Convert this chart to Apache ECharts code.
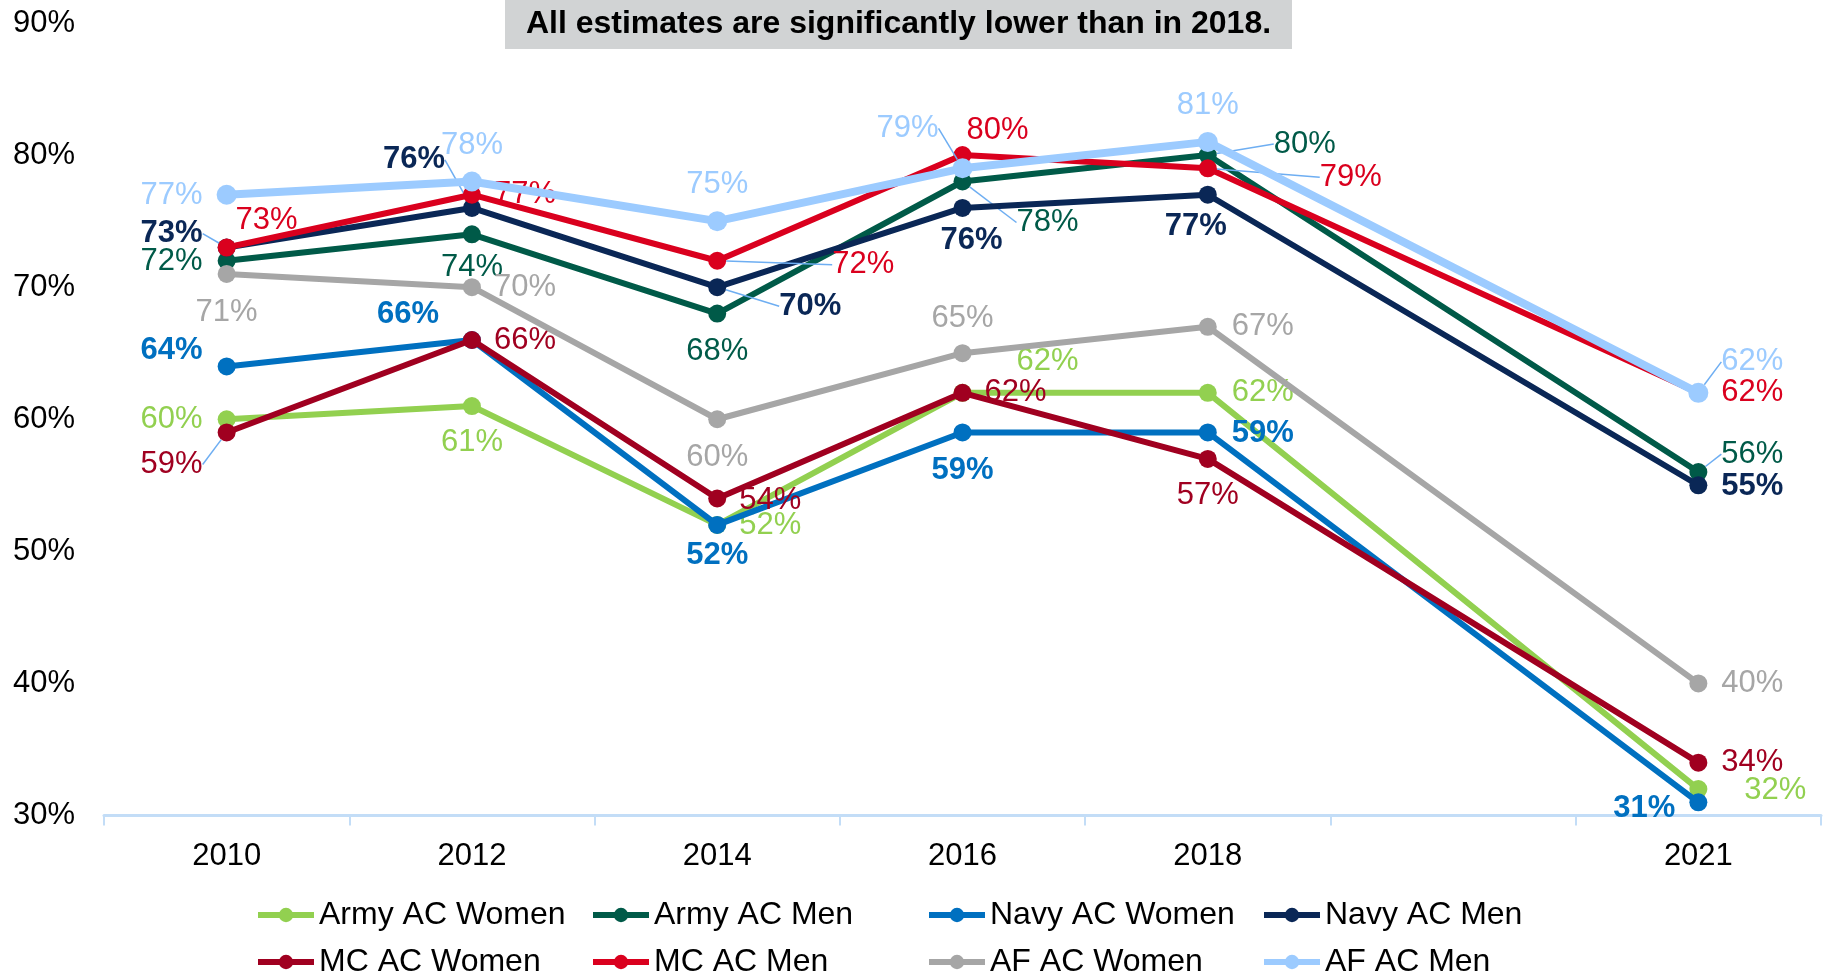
<!DOCTYPE html>
<html>
<head>
<meta charset="utf-8">
<script src="https://cdn.jsdelivr.net/npm/echarts/dist/echarts.min.js"></script>
<style>
  html, body { margin: 0; padding: 0; background: #ffffff; }
  #chart { width: 1829px; height: 975px; }
</style>
</head>
<body>
<div id="chart"></div>
<script>
// Survey years (the blank slot keeps the 2018 -> 2021 gap wider)
const years = ['2010', '2012', '2014', '2016', '2018', '', '2021'];
const yTicks = [30, 40, 50, 60, 70, 80, 90];

// Percentages per group
const armyWomen = [60, 61, 52, 62, 62, null, 32];
const armyMen   = [72, 74, 68, 78, 80, null, 56];
const navyWomen = [64, 66, 52, 59, 59, null, 31];
const navyMen   = [73, 76, 70, 76, 77, null, 55];
const mcWomen   = [59, 66, 54, 62, 57, null, 34];
const mcMen     = [73, 77, 72, 80, 79, null, 62];
const afWomen   = [71, 70, 60, 65, 67, null, 40];
const afMen     = [77, 78, 75, 79, 81, null, 62];

const seriesNames = ['Army AC Women', 'Army AC Men', 'Navy AC Women', 'Navy AC Men',
                     'MC AC Women', 'MC AC Men', 'AF AC Women', 'AF AC Men'];
const seriesValues = [armyWomen, armyMen, navyWomen, navyMen, mcWomen, mcMen, afWomen, afMen];

const FONT = '"Liberation Sans", Arial, Helvetica, sans-serif';

// Styling per group: colour, bold labels, line width, marker size
const styles = [
  { color: '#92D050', bold: false, width: 6, size: 18 },
  { color: '#005A48', bold: false, width: 6, size: 18 },
  { color: '#0070C0', bold: true,  width: 6, size: 18 },
  { color: '#0A2756', bold: true,  width: 6, size: 18 },
  { color: '#A00020', bold: false, width: 6, size: 18 },
  { color: '#DA001E', bold: false, width: 6, size: 18 },
  { color: '#A6A6A6', bold: false, width: 6, size: 18 },
  { color: '#9CCBFF', bold: false, width: 8, size: 20 }
];

// Label placement (pixel shift of each value label from its marker)
const labelShift = [
  [[-55, 0], [0, 36], [53, 1], [85, -31], [55, 0], null, [77, 1]],
  [[-55, 1], [0, 33], [0, 38], [85, 41], [97, -11], null, [54, -18]],
  [[-55, -16], [-64, -26], [0, 31], [0, 38], [55, 1], null, [-54, 6]],
  [[-55, -14], [-58, -48], [93, 19], [9, 33], [-12, 32], null, [54, 1]],
  [[-55, 32], [53, 0], [53, 2], [53, 0], [0, 37], null, [54, 0]],
  [[40, -27], [53, 0], [146, 4], [35, -25], [143, 9], null, [54, 0]],
  [[0, 38], [53, 0], [0, 38], [0, -35], [55, 0], null, [54, 0]],
  [[-55, 1], [0, -36], [0, -37], [-55, -40], [0, -36], null, [54, -31]]
];
// Labels that are tied back to their marker with a leader line
const leaders = [
  [], [3, 4, 6], [], [0, 1, 2], [0], [2, 4], [], [3, 6]
];

const series = seriesNames.map((name, s) => {
  const st = styles[s];
  return {
    name: name,
    type: 'line',
    data: seriesValues[s].map((v, i) => {
      if (v === null) return null;
      const item = { value: v };
      if (leaders[s].indexOf(i) >= 0) item.labelLine = { show: true };
      return item;
    }),
    connectNulls: true,
    showAllSymbol: true,
    symbol: 'circle',
    symbolSize: st.size,
    color: st.color,
    lineStyle: { width: st.width, color: st.color },
    itemStyle: { color: st.color },
    label: {
      show: true,
      position: 'inside',
      formatter: p => p.value + '%',
      color: st.color,
      fontFamily: FONT,
      fontSize: 31,
      fontWeight: st.bold ? 'bold' : 'normal'
    },
    labelLine: {
      show: false,
      lineStyle: { color: '#6EAEF2', width: 1.5 }
    },
    labelLayout: function (p) {
      const sh = labelShift[s][p.dataIndex] || [0, 0];
      return { dx: sh[0], dy: sh[1] };
    },
    emphasis: { disabled: true },
    z: 2 + s
  };
});

// Legend laid out as a 4 x 2 grid, one legend box per entry
const legendCols = [255, 590, 926, 1261];
const legendRows = [899, 946];
const legends = seriesNames.map((name, s) => ({
  data: [name],
  left: legendCols[s % 4],
  top: legendRows[Math.floor(s / 4)],
  orient: 'horizontal',
  padding: 0,
  itemWidth: 56,
  itemHeight: 18,
  lineStyle: { width: 6 },
  textStyle: { fontFamily: FONT, fontSize: 32, color: '#000000', lineHeight: 32 },
  selectedMode: false
}));

const chart = echarts.init(document.getElementById('chart'), null, { renderer: 'canvas' });
chart.setOption({
  animation: false,
  backgroundColor: '#ffffff',
  grid: { left: 104, right: 8, top: 23, bottom: 159.5, containLabel: false },
  xAxis: {
    type: 'category',
    data: years,
    boundaryGap: true,
    axisLine: { show: true, lineStyle: { color: '#C3DDF7', width: 3 } },
    axisTick: { show: true, interval: 0, length: 10, lineStyle: { color: '#C3DDF7', width: 2 } },
    axisLabel: { interval: 0, margin: 25, color: '#000000', fontFamily: FONT, fontSize: 31 },
    splitLine: { show: false }
  },
  yAxis: {
    type: 'value',
    min: yTicks[0],
    max: yTicks[yTicks.length - 1],
    interval: 10,
    axisLine: { show: false },
    axisTick: { show: false },
    splitLine: { show: false },
    axisLabel: {
      margin: 29,
      color: '#000000',
      fontFamily: FONT,
      fontSize: 31,
      formatter: '{value}%'
    }
  },
  legend: legends,
  graphic: [
    {
      type: 'group',
      left: 505,
      top: 0,
      children: [
        { type: 'rect', shape: { x: 0, y: 0, width: 787, height: 49 }, style: { fill: '#D1D3D4' } },
        {
          type: 'text',
          x: 393.5,
          y: 24.5,
          style: {
            text: 'All estimates are significantly lower than in 2018.',
            fill: '#000000',
            font: 'bold 32px ' + FONT,
            align: 'center',
            verticalAlign: 'middle'
          }
        }
      ]
    }
  ],
  series: series
});
</script>
</body>
</html>
